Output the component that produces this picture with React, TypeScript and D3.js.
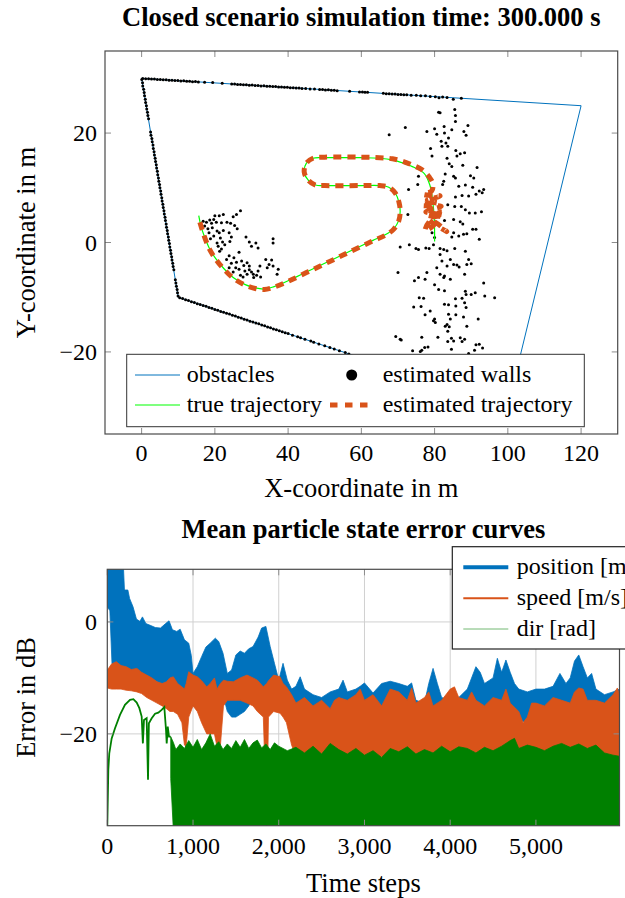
import React from 'react';
import * as d3 from 'd3';

const FONT = '"Liberation Serif", "Times New Roman", serif';

// ---------- top plot data (metres) ----------
const obstacles: [number, number][] = [[0, 30], [120, 25], [100, -30], [10, -10], [0, 30]];

const wallTop: [number, number][] = [[0.3,29.99],[1.1,29.93],[1.9,29.95],[2.7,29.86],[3.5,29.87],[4.3,29.8],[5.1,29.81],[5.9,29.73],[6.7,29.74],[7.5,29.67],[8.3,29.66],[9.1,29.6],[9.9,29.62],[10.7,29.53],[11.5,29.54],[12.3,29.47],[13.1,29.48],[13.9,29.4],[14.7,29.41],[15.5,29.33],[17.2,29.3],[19.4,29.22],[22.0,29.1],[24.6,28.98],[25.4,28.96],[26.2,28.9],[27.0,28.9],[27.8,28.83],[28.6,28.83],[29.4,28.76],[30.2,28.77],[31.0,28.7],[31.8,28.7],[32.6,28.62],[33.4,28.63],[34.2,28.56],[35.0,28.57],[35.8,28.49],[36.6,28.5],[37.4,28.42],[38.2,28.43],[39.0,28.36],[39.8,28.37],[40.6,28.29],[41.4,28.3],[42.2,28.22],[43.0,28.23],[43.8,28.16],[44.8,28.15],[46.0,28.06],[47.2,28.05],[48.6,27.95],[49.4,27.97],[50.2,27.89],[51.0,27.9],[51.8,27.82],[52.6,27.83],[53.4,27.75],[56.8,27.66],[59.5,27.5],[60.3,27.5],[61.0,27.44],[61.7,27.45],[66.0,27.27],[66.8,27.2],[67.6,27.2],[68.4,27.13],[69.2,27.14],[70.0,27.06],[70.8,27.07],[71.6,27.0],[72.4,27.0],[73.6,26.9],[75.0,26.9],[76.2,26.8],[77.5,26.8],[78.8,26.7],[80.2,26.62],[81.2,26.45],[82.2,26.6],[83.4,26.5],[85.1,26.2],[87.3,26.38]];

const wallLeft: [number, number][] = [[0.05,29.8],[0.25,29.2],[0.3,28.6],[0.55,28.0],[0.7,27.4],[0.8,26.8],[1.0,26.2],[1.1,25.6],[1.3,25.0],[1.4,24.4],[1.6,23.8],[1.7,23.2],[1.9,22.6],[2.45,20.2],[2.55,19.6],[2.8,19.0],[2.9,18.4],[3.1,17.8],[3.2,17.2],[3.4,16.6],[3.5,16.0],[3.7,15.4],[3.8,14.8],[4.0,14.2],[4.1,13.6],[4.3,13.0],[4.4,12.4],[4.6,11.8],[4.7,11.2],[4.9,10.6],[5.0,10.0],[5.2,9.4],[5.3,8.8],[5.5,8.2],[5.6,7.6],[5.8,7.0],[5.9,6.4],[6.1,5.8],[6.2,5.2],[6.4,4.6],[6.5,4.0],[6.7,3.4],[6.8,2.8],[7.0,2.2],[7.1,1.6],[7.3,1.0],[7.4,0.4],[7.6,-0.2],[7.7,-0.8],[7.9,-1.4],[8.0,-2.0],[8.2,-2.6],[8.3,-3.2],[8.5,-3.8],[8.6,-4.4],[8.8,-5.0],[9.2,-6.8],[9.35,-7.4],[9.5,-8.0],[9.7,-8.6],[9.8,-9.2],[9.95,-9.8]];

const wallBottom: [number, number][] = [[10.4,-10.1],[11.2,-10.25],[12.0,-10.46],[12.8,-10.6],[13.6,-10.82],[14.4,-10.96],[15.2,-11.18],[16.0,-11.31],[16.8,-11.53],[17.6,-11.67],[18.4,-11.89],[19.2,-12.02],[20.0,-12.24],[20.8,-12.38],[21.6,-12.6],[22.4,-12.74],[23.2,-12.95],[24.0,-13.09],[24.8,-13.31],[25.6,-13.45],[26.4,-13.66],[27.2,-13.8],[28.0,-14.02],[28.8,-14.16],[29.6,-14.38],[30.4,-14.51],[31.2,-14.73],[32.0,-14.87],[32.8,-15.09],[33.6,-15.22],[34.4,-15.44],[35.2,-15.58],[36.0,-15.8],[36.8,-15.94],[37.6,-16.15],[38.4,-16.29],[39.2,-16.51],[40.0,-16.65],[41.2,-16.95],[42.6,-17.22],[43.4,-17.4],[44.6,-17.7],[46.2,-18.02],[47.0,-18.25],[48.4,-18.55],[50.0,-18.86],[51.4,-19.2],[52.6,-19.47],[54.0,-19.78],[55.6,-20.12],[56.6,-20.38]];

const scatterRight: [number, number][] = [[81.1,23.8],[81.5,23.7],[85.5,24.3],[85.7,23.2],[72.0,21.0],[67.6,19.7],[77.9,20.3],[80.0,20.8],[82.6,21.2],[80.6,19.8],[82.7,20.0],[84.7,20.6],[85.7,22.1],[88.0,20.3],[89.1,21.4],[88.6,19.6],[81.8,18.5],[83.1,18.2],[83.8,19.1],[82.0,17.6],[83.6,17.6],[78.9,17.2],[79.3,15.8],[83.4,15.4],[85.8,16.8],[86.1,15.8],[87.0,16.2],[88.2,16.4],[84.0,14.4],[84.7,13.9],[87.7,14.1],[91.6,13.7],[82.9,12.5],[85.2,12.1],[85.7,11.8],[89.8,12.2],[90.7,11.8],[75.6,12.1],[75.4,10.6],[82.5,11.2],[82.2,10.6],[86.6,10.3],[88.4,10.5],[90.4,10.1],[72.9,9.7],[92.2,9.4],[93.0,9.1],[93.4,9.7],[85.7,8.3],[87.5,8.6],[89.3,8.5],[91.3,8.8],[83.6,6.9],[85.5,6.6],[87.3,6.6],[88.4,6.0],[91.1,5.4],[89.5,5.4],[92.8,5.6],[72.7,5.1],[82.7,4.0],[85.2,4.2],[87.0,3.8],[87.7,3.4],[90.4,2.4],[91.3,2.4],[92.2,0.6],[79.3,1.8],[80.0,0.9],[85.2,1.8],[86.6,1.2],[87.9,1.5],[88.8,1.6],[84.7,1.0],[70.6,-0.8],[73.1,-0.4],[74.9,-1.1],[75.6,-1.3],[77.6,-1.0],[78.5,-1.1],[79.7,-0.4],[81.5,-1.1],[82.5,-1.3],[83.4,-1.5],[85.5,-1.1],[88.4,-1.6],[81.5,-2.2],[82.0,-3.4],[84.3,-3.1],[89.3,-3.1],[90.0,-3.9],[83.4,-4.3],[85.2,-4.0],[86.1,-4.1],[86.7,-4.5],[88.8,-4.0],[80.6,-4.6],[70.0,-5.5],[77.9,-5.5],[81.5,-5.8],[82.7,-6.1],[82.5,-6.4],[88.2,-5.8],[75.6,-6.4],[74.5,-7.0],[77.4,-6.7],[84.3,-6.7],[93.4,-7.4],[80.0,-7.7],[81.1,-8.6],[82.7,-8.8],[88.4,-8.9],[90.0,-9.5],[91.1,-9.2],[88.6,-9.5],[93.7,-9.8],[96.4,-10.1],[75.8,-10.1],[77.0,-10.2],[85.7,-10.3],[87.5,-10.2],[88.2,-11.0],[82.7,-11.3],[83.8,-11.4],[85.8,-11.6],[74.3,-11.8],[76.3,-11.7],[88.6,-11.9],[78.8,-12.5],[77.4,-13.2],[80.0,-14.0],[79.7,-14.3],[80.2,-14.6],[83.8,-13.1],[85.8,-13.2],[87.9,-13.6],[91.9,-14.0],[84.3,-14.0],[83.4,-15.0],[82.9,-15.3],[84.0,-15.4],[83.6,-16.2],[88.8,-15.3],[69.4,-17.2],[70.6,-17.7],[70.9,-17.8],[76.5,-17.3],[80.9,-17.3],[84.6,-17.5],[85.2,-18.0],[87.0,-17.4],[88.2,-17.7],[83.6,-18.1],[87.5,-18.1],[78.2,-19.1],[77.3,-19.2],[76.5,-19.7],[74.0,-19.8],[76.1,-19.9],[84.6,-19.5],[90.9,-19.7],[91.3,-18.7],[92.2,-18.6],[93.1,-19.3],[89.3,-20.3]];

const scatterLeft: [number, number][] = [[27.0,5.8],[25.9,5.1],[25.0,4.7],[22.3,5.1],[21.2,4.9],[20.0,4.9],[19.7,4.2],[18.6,4.1],[17.7,3.7],[16.8,3.9],[19.1,3.5],[20.4,3.7],[21.8,3.6],[23.3,3.7],[24.3,3.5],[25.4,3.1],[26.1,2.5],[17.2,3.0],[18.1,2.5],[19.3,2.7],[20.6,2.1],[18.4,1.8],[21.2,1.8],[22.3,2.2],[23.9,1.8],[24.5,1.0],[24.1,0.2],[19.7,1.2],[21.5,0.8],[22.1,0.1],[20.6,-0.1],[22.7,-0.4],[18.8,0.7],[20.9,-0.7],[21.8,-1.2],[21.3,-1.6],[28.5,1.0],[29.4,0.1],[31.2,-0.1],[30.0,-0.7],[31.8,-1.0],[35.9,0.7],[35.9,-0.1],[26.6,-1.8],[23.9,-2.4],[25.2,-2.8],[23.2,-3.1],[24.5,-3.8],[25.9,-3.6],[27.3,-3.4],[27.9,-4.2],[28.8,-3.7],[29.4,-5.0],[30.0,-5.4],[30.5,-5.8],[31.8,-5.2],[28.8,-5.8],[31.4,-6.0],[32.5,-6.3],[33.9,-3.1],[35.5,-3.2],[34.8,-4.0],[34.3,-4.6],[35.9,-4.3],[37.3,-4.9],[37.0,-5.8],[25.7,-4.6],[26.6,-4.9],[23.9,-4.6],[25.0,-5.4],[27.0,-6.0],[27.7,-6.3],[32.3,-4.3],[29.4,-4.3],[28.2,-5.2],[30.6,-6.4]];

const trueTrajectory: [number, number][] = [[15.6,4.9],[16.2,3.0],[17.2,1.0],[18.6,-1.2],[20.3,-3.0],[22.5,-4.8],[25.2,-6.5],[28.3,-7.7],[31.0,-8.3],[33.5,-8.5],[36.0,-8.1],[40.0,-7.0],[45.0,-5.4],[50.0,-3.8],[55.0,-2.2],[60.0,-0.6],[63.5,0.5],[66.5,1.4],[68.8,2.5],[70.2,4.0],[70.6,5.6],[70.3,7.3],[69.3,9.0],[67.5,10.1],[65.0,10.4],[60.0,10.4],[50.0,10.4],[47.5,10.5],[45.6,11.3],[44.4,12.9],[45.0,14.5],[46.8,15.4],[50.0,15.5],[60.0,15.5],[65.0,15.4],[68.5,15.1],[71.5,14.5],[74.5,13.7],[77.2,12.6],[78.7,10.5],[79.5,7.5],[79.9,4.5],[80.0,2.0],[80.0,0.2]];

const estTrajectory: [number, number][] = [[15.9,3.7],[16.5,2.4],[17.3,0.8],[18.6,-1.3],[20.3,-3.1],[22.5,-4.9],[25.2,-6.6],[28.3,-7.8],[31.0,-8.4],[33.5,-8.6],[36.0,-8.2],[40.0,-7.1],[45.0,-5.5],[50.0,-3.9],[55.0,-2.3],[60.0,-0.7],[63.5,0.4],[66.5,1.3],[68.8,2.4],[70.2,3.9],[70.6,5.6],[70.3,7.3],[69.3,9.0],[67.5,10.1],[65.0,10.4],[60.0,10.4],[50.0,10.4],[47.5,10.5],[45.6,11.3],[44.4,12.9],[45.0,14.5],[46.8,15.4],[50.0,15.6],[60.0,15.6],[65.0,15.5],[68.5,15.3],[71.5,14.8],[74.5,14.0],[76.8,13.2],[78.5,12.0],[79.5,10.8],[79.2,9.4],[77.0,8.8],[81.5,8.5],[78.0,7.8],[80.5,7.6],[76.5,6.8],[81.8,6.6],[77.6,5.6],[82.3,5.0],[78.2,4.4],[83.3,2.0],[79.0,4.0],[77.4,2.2],[79.8,3.2],[81.2,6.0],[78.6,6.2],[80.0,8.0],[79.2,5.2],[78.4,3.0]];

const topXTicks = [0, 20, 40, 60, 80, 100, 120];
const topYTicks = [-20, 0, 20];

// ---------- bottom plot data (dB) ----------
// [time step, upper envelope, lower envelope]
const positionBand: [number, number, number][] = [[0,12,2.7],[30,12,2.0],[55,12,-7.5],[100,12,-8],[150,12,-8.5],[185,11,-8.5],[200,5.7,-8.5],[240,5.7,-8.5],[260,4.2,-8.8],[300,2.7,-9],[340,0.5,-9],[380,0.1,-9.5],[410,0.9,-9.5],[450,-0.3,-10],[500,-0.6,-10],[560,-1.0,-10.5],[620,-1.1,-11],[680,-0.3,-11],[720,0.2,-11],[760,-1.4,-11.5],[810,-1.7,-12],[850,-1.3,-12],[900,-3.2,-12.5],[950,-3.8,-13],[980,-6,-13],[1000,-9.2,-13.3],[1050,-8,-13.3],[1100,-6.2,-13.5],[1150,-4.5,-13.5],[1200,-3.8,-13.5],[1260,-2.9,-13],[1300,-3.5,-12.5],[1350,-5.6,-13],[1400,-9.2,-16],[1450,-8.6,-17],[1500,-5.9,-17],[1550,-5.2,-16.5],[1600,-5.6,-16],[1650,-4.8,-15],[1700,-4.4,-13.5],[1760,-2.7,-12.5],[1800,-1.1,-12],[1850,-0.8,-12.5],[1900,-4.4,-13],[1950,-7.4,-14],[2000,-10.4,-15],[2050,-7.4,-16],[2100,-10.4,-17],[2150,-12,-18],[2200,-11.5,-19],[2250,-9.8,-19.5],[2300,-12,-20],[2400,-13,-20],[2500,-13.5,-20],[2600,-12.5,-20],[2700,-12,-19.5],[2750,-10.4,-19.5],[2800,-12.5,-19],[2900,-12,-18.5],[2950,-11.5,-18],[3000,-10.9,-17.5],[3100,-12.7,-17],[3200,-11,-17],[3300,-10.6,-16.5],[3400,-11,-16.5],[3500,-11.5,-17],[3550,-10.9,-17],[3600,-14,-17.5],[3700,-14.5,-17.5],[3750,-11,-17],[3800,-8.3,-16.5],[3850,-11,-16.5],[3900,-13.5,-17],[4000,-14,-17],[4100,-13.5,-17],[4200,-12,-16.5],[4300,-8,-16],[4350,-9,-16],[4400,-11,-16.5],[4500,-10,-16.5],[4550,-6.5,-16],[4600,-9,-16],[4650,-6.8,-16],[4700,-9,-16.5],[4750,-11,-17],[4800,-12,-17.5],[4900,-12.5,-18],[5000,-12,-17.5],[5100,-12,-17],[5200,-11.5,-17],[5280,-9.2,-16.5],[5350,-11,-16.5],[5400,-10,-16.5],[5450,-7,-16],[5500,-5.9,-16],[5550,-8,-16],[5600,-10,-16.5],[5650,-9.2,-16.5],[5700,-12,-17],[5800,-13,-17.5],[5900,-12.5,-17.5],[5975,-12,-17]];

const speedBand: [number, number, number][] = [[0,-8.6,-11.8],[50,-7.5,-12],[105,-7.1,-12],[160,-7.8,-12],[220,-8,-12.2],[280,-8.5,-12.3],[345,-8.3,-12.5],[400,-9,-12.8],[460,-9.5,-13.5],[520,-10,-14],[580,-10.7,-14.5],[640,-11,-15],[690,-10.7,-15.5],[730,-10,-16],[770,-9.8,-16],[820,-11,-16.5],[870,-11.6,-18],[900,-12,-22],[920,-11,-22.3],[950,-8.9,-17],[1000,-9.5,-15],[1050,-9.8,-16],[1100,-10.5,-18],[1160,-11.6,-20],[1200,-11,-20],[1250,-10,-20],[1280,-12,-22.3],[1320,-11,-22],[1355,-10.4,-15],[1400,-10.6,-14],[1470,-10.7,-14],[1550,-10,-14],[1630,-9.5,-14.5],[1700,-10,-15],[1750,-10.4,-16],[1820,-11.6,-17],[1860,-11,-36.4],[1880,-10.5,-17],[1940,-9.5,-16],[2015,-9.8,-16.3],[2050,-11,-17],[2090,-11.6,-18],[2150,-13,-22],[2200,-14.5,-24],[2300,-13.5,-26],[2400,-15,-24],[2500,-14,-27],[2600,-15.5,-24],[2650,-14,-33],[2700,-13.5,-25],[2800,-14,-24],[2900,-13,-25],[2950,-12,-24],[3000,-14,-24],[3100,-13,-26],[3200,-15,-24],[3300,-12,-30],[3400,-12.5,-24],[3500,-14,-24],[3550,-11.8,-25],[3600,-14.5,-24],[3700,-13.5,-24],[3750,-12.5,-26],[3800,-15,-24],[3900,-14,-24],[4000,-12,-25],[4050,-11.6,-26],[4100,-13.5,-24],[4200,-14,-25],[4250,-12.5,-30],[4300,-14,-24],[4400,-15,-24],[4500,-13.5,-24],[4600,-14,-28],[4650,-12,-25],[4700,-14.5,-24],[4800,-16,-24],[4850,-18,-24],[4900,-17,-24],[4950,-14.5,-25],[5000,-14.5,-24],[5100,-15,-24],[5200,-13.5,-26],[5300,-14,-24],[5400,-14.5,-24],[5450,-12.5,-25],[5500,-11.8,-30],[5550,-12,-25],[5600,-14,-24],[5700,-14,-24],[5800,-14.5,-25],[5900,-13,-24],[5950,-11.8,-24],[5975,-13,-24]];

// early (single line) part of the direction error
const dirEarly: [number, number][] = [[0,-36.4],[12,-26.4],[23,-23.5],[51,-20.8],[90,-19],[148,-16.6],[206,-14.8],[265,-13.9],[304,-13.8],[343,-14.4],[374,-15.4],[401,-16.9],[415,-21.7],[428,-17.5],[459,-17.2],[475,-28.2],[485,-18.1],[518,-17.2],[557,-16.4],[595,-16.2],[634,-15.7],[665,-15.2],[685,-19.3],[693,-21.7],[705,-18.7],[720,-20.5],[740,-20.5]];

const dirBand: [number, number, number][] = [[740,-20.5,-28],[770,-21.5,-37],[800,-22.8,-37],[850,-21.8,-37],[900,-22.6,-37],[950,-21.2,-37],[1000,-22.4,-37],[1050,-21.0,-37],[1100,-22.8,-37],[1150,-21.6,-37],[1200,-20.0,-37],[1250,-22.2,-37],[1300,-21.4,-37],[1350,-22.8,-37],[1400,-21.8,-37],[1450,-22.6,-37],[1500,-21.2,-37],[1550,-22.4,-37],[1600,-21.0,-37],[1650,-22.6,-37],[1700,-21.6,-37],[1750,-21.1,-37],[1800,-22.5,-37],[1850,-21.8,-37],[1900,-22.8,-37],[1950,-21.6,-37],[2000,-22.2,-37],[2100,-23.0,-37],[2200,-22.4,-37],[2300,-23.4,-37],[2400,-22.2,-37],[2500,-23.6,-37],[2600,-21.7,-37],[2700,-22.8,-37],[2800,-23.6,-37],[2900,-22.6,-37],[3000,-23.8,-37],[3100,-23.0,-37],[3200,-24.2,-37],[3300,-22.6,-37],[3400,-23.2,-37],[3500,-22.3,-37],[3600,-23.6,-37],[3700,-22.8,-37],[3800,-23.4,-37],[3900,-22.2,-37],[4000,-23.2,-37],[4100,-22.3,-37],[4200,-22.6,-37],[4300,-23.4,-37],[4400,-22.4,-37],[4500,-23.0,-37],[4600,-22.2,-37],[4700,-21.2,-37],[4750,-20.8,-37],[4800,-22.6,-37],[4900,-22.0,-37],[5000,-22.4,-37],[5100,-23.0,-37],[5200,-22.2,-37],[5300,-21.7,-37],[5400,-22.4,-37],[5500,-21.8,-37],[5600,-22.6,-37],[5700,-22.0,-37],[5800,-23.4,-37],[5900,-23.8,-37],[5975,-24.0,-37]];

const botXTicks = [0, 1000, 2000, 3000, 4000, 5000];
const botYTicks = [-20, 0];

const BLUE = '#0072BD';
const ORANGE = '#D95319';
const LIME = '#00FF00';
const DGREEN = '#008000';
const FRAME = '#4a4a4a';
const TICK = '#8c8c8c';

export default function App() {
  // top plot
  const TL = 105, TR = 617.7, TT = 51, TB = 434;
  const tx = d3.scaleLinear().domain([-10, 130]).range([TL, TR]);
  const ty = d3.scaleLinear().domain([-35, 35]).range([TB, TT]);
  const line = d3.line<[number, number]>().x(d => tx(d[0])).y(d => ty(d[1]));
  const curve = d3.line<[number, number]>().x(d => tx(d[0])).y(d => ty(d[1])).curve(d3.curveCatmullRom.alpha(0.5));
  const walls = [...wallTop, ...wallLeft, ...wallBottom, ...scatterRight, ...scatterLeft];

  // bottom plot
  const BL = 107.3, BR = 619.5, BT = 569.3, BB = 825.7;
  const bx = d3.scaleLinear().domain([0, 5975]).range([BL, BR]);
  const by = d3.scaleLinear().domain([-36.4, 9.4]).range([BB, BT]);
  const band = d3.area<[number, number, number]>().x(d => bx(d[0])).y0(d => by(d[2])).y1(d => by(d[1]));
  const bline = d3.line<[number, number]>().x(d => bx(d[0])).y(d => by(d[1]));
  const fmt = d3.format(',');
  const minus = (v: number) => (v < 0 ? '\u2212' + Math.abs(v) : String(v));

  const tickLen = 6;

  return (
    <svg width={625} height={898} style={{ position: 'absolute', left: 0, top: 0, background: '#fff' }} fontFamily={FONT}>
      <defs>
        <clipPath id="clipTop"><rect x={TL} y={TT} width={TR - TL} height={TB - TT} /></clipPath>
        <clipPath id="clipBot"><rect x={BL} y={BT} width={BR - BL} height={BB - BT} /></clipPath>
      </defs>
      <rect x={0} y={0} width={625} height={898} fill="#fff" />

      {/* ===== TOP PLOT ===== */}
      <text x={(TL + TR) / 2} y={26} textAnchor="middle" fontWeight="bold" fontSize={26.5}>Closed scenario simulation time: 300.000 s</text>
      <g clipPath="url(#clipTop)">
        <path d={line(obstacles) || ''} fill="none" stroke={BLUE} strokeWidth={1} />
        {walls.map((p, i) => (
          <circle key={i} cx={tx(p[0])} cy={ty(p[1])} r={1.5} fill="#000" />
        ))}
        <path d={curve(trueTrajectory) || ''} fill="none" stroke={LIME} strokeWidth={1.2} />
        <path d={curve(estTrajectory) || ''} fill="none" stroke={ORANGE} strokeWidth={5} strokeDasharray="8 6" />
      </g>
      {topXTicks.map(v => (
        <g key={'tx' + v}>
          <line x1={tx(v)} x2={tx(v)} y1={TB} y2={TB - tickLen} stroke={TICK} />
          <line x1={tx(v)} x2={tx(v)} y1={TT} y2={TT + tickLen} stroke={TICK} />
          <text x={tx(v)} y={461} textAnchor="middle" fontSize={24}>{minus(v)}</text>
        </g>
      ))}
      {topYTicks.map(v => (
        <g key={'ty' + v}>
          <line x1={TL} x2={TL + tickLen} y1={ty(v)} y2={ty(v)} stroke={TICK} />
          <line x1={TR} x2={TR - tickLen} y1={ty(v)} y2={ty(v)} stroke={TICK} />
          <text x={97} y={ty(v) + 8} textAnchor="end" fontSize={24}>{minus(v)}</text>
        </g>
      ))}
      <g>
        <rect x={126.7} y={354.3} width={457.6} height={72.4} fill="#fff" stroke="#333" strokeWidth={1} />
        <line x1={135} x2={180} y1={375} y2={375} stroke={BLUE} strokeWidth={1} />
        <text x={186.7} y={382} fontSize={24}>obstacles</text>
        <circle cx={351.7} cy={375} r={5.5} fill="#000" />
        <text x={382.7} y={382} fontSize={24}>estimated walls</text>
        <line x1={135} x2={180} y1={405} y2={405} stroke={LIME} strokeWidth={1.2} />
        <text x={186.7} y={412} fontSize={24}>true trajectory</text>
        <line x1={329} x2={374} y1={405} y2={405} stroke={ORANGE} strokeWidth={5} strokeDasharray="7.5 7.5" strokeDashoffset={-1} />
        <text x={382.7} y={412} fontSize={24}>estimated trajectory</text>
      </g>
      <rect x={TL} y={TT} width={TR - TL} height={TB - TT} fill="none" stroke={FRAME} strokeWidth={1.2} />
      <text x={(TL + TR) / 2} y={497} textAnchor="middle" fontSize={26.5}>X-coordinate in m</text>
      <text transform={`translate(35,${(TT + TB) / 2}) rotate(-90)`} textAnchor="middle" fontSize={26.5}>Y-coordinate in m</text>

      {/* ===== BOTTOM PLOT ===== */}
      <text x={(BL + BR) / 2} y={538} textAnchor="middle" fontWeight="bold" fontSize={26.5}>Mean particle state error curves</text>
      {botXTicks.filter(v => v > 0).map(v => (
        <line key={'gx' + v} x1={bx(v)} x2={bx(v)} y1={BT} y2={BB} stroke="#d0d0d0" strokeWidth={1} />
      ))}
      {botYTicks.map(v => (
        <line key={'gy' + v} x1={BL} x2={BR} y1={by(v)} y2={by(v)} stroke="#d0d0d0" strokeWidth={1} />
      ))}
      <g clipPath="url(#clipBot)">
        <path d={band(positionBand) || ''} fill={BLUE} stroke={BLUE} strokeWidth={0.8} />
        <path d={band(speedBand) || ''} fill={ORANGE} stroke={ORANGE} strokeWidth={0.8} />
        <path d={band(dirBand) || ''} fill={DGREEN} stroke={DGREEN} strokeWidth={0.8} />
        <path d={bline(dirEarly) || ''} fill="none" stroke={DGREEN} strokeWidth={1.8} />
      </g>
      {botXTicks.map(v => (
        <g key={'bx' + v}>
          <line x1={bx(v)} x2={bx(v)} y1={BB} y2={BB - tickLen} stroke={TICK} />
          <line x1={bx(v)} x2={bx(v)} y1={BT} y2={BT + tickLen} stroke={TICK} />
          <text x={bx(v)} y={854} textAnchor="middle" fontSize={24}>{fmt(v)}</text>
        </g>
      ))}
      {botYTicks.map(v => (
        <g key={'by' + v}>
          <line x1={BL} x2={BL + tickLen} y1={by(v)} y2={by(v)} stroke={TICK} />
          <line x1={BR} x2={BR - tickLen} y1={by(v)} y2={by(v)} stroke={TICK} />
          <text x={97} y={by(v) + 8} textAnchor="end" fontSize={24}>{minus(v)}</text>
        </g>
      ))}
      <rect x={BL} y={BT} width={BR - BL} height={BB - BT} fill="none" stroke={FRAME} strokeWidth={1.2} />
      <g>
        <rect x={452.3} y={546.7} width={220} height={102.3} fill="#fff" stroke="#222" strokeWidth={1.2} />
        <line x1={463.3} x2={508.3} y1={567.3} y2={567.3} stroke={BLUE} strokeWidth={4} />
        <text x={516.7} y={574} fontSize={24}>position [m]</text>
        <line x1={463.3} x2={508.3} y1={598.3} y2={598.3} stroke={ORANGE} strokeWidth={2} />
        <text x={516.7} y={605} fontSize={24}>speed [m/s]</text>
        <line x1={463.3} x2={508.3} y1={629} y2={629} stroke={DGREEN} strokeWidth={1} opacity={0.55} />
        <text x={516.7} y={636} fontSize={24}>dir [rad]</text>
      </g>
      <text x={(BL + BR) / 2} y={892} textAnchor="middle" fontSize={26.5}>Time steps</text>
      <text transform={`translate(35,${(BT + BB) / 2}) rotate(-90)`} textAnchor="middle" fontSize={26.5}>Error in dB</text>
    </svg>
  );
}
